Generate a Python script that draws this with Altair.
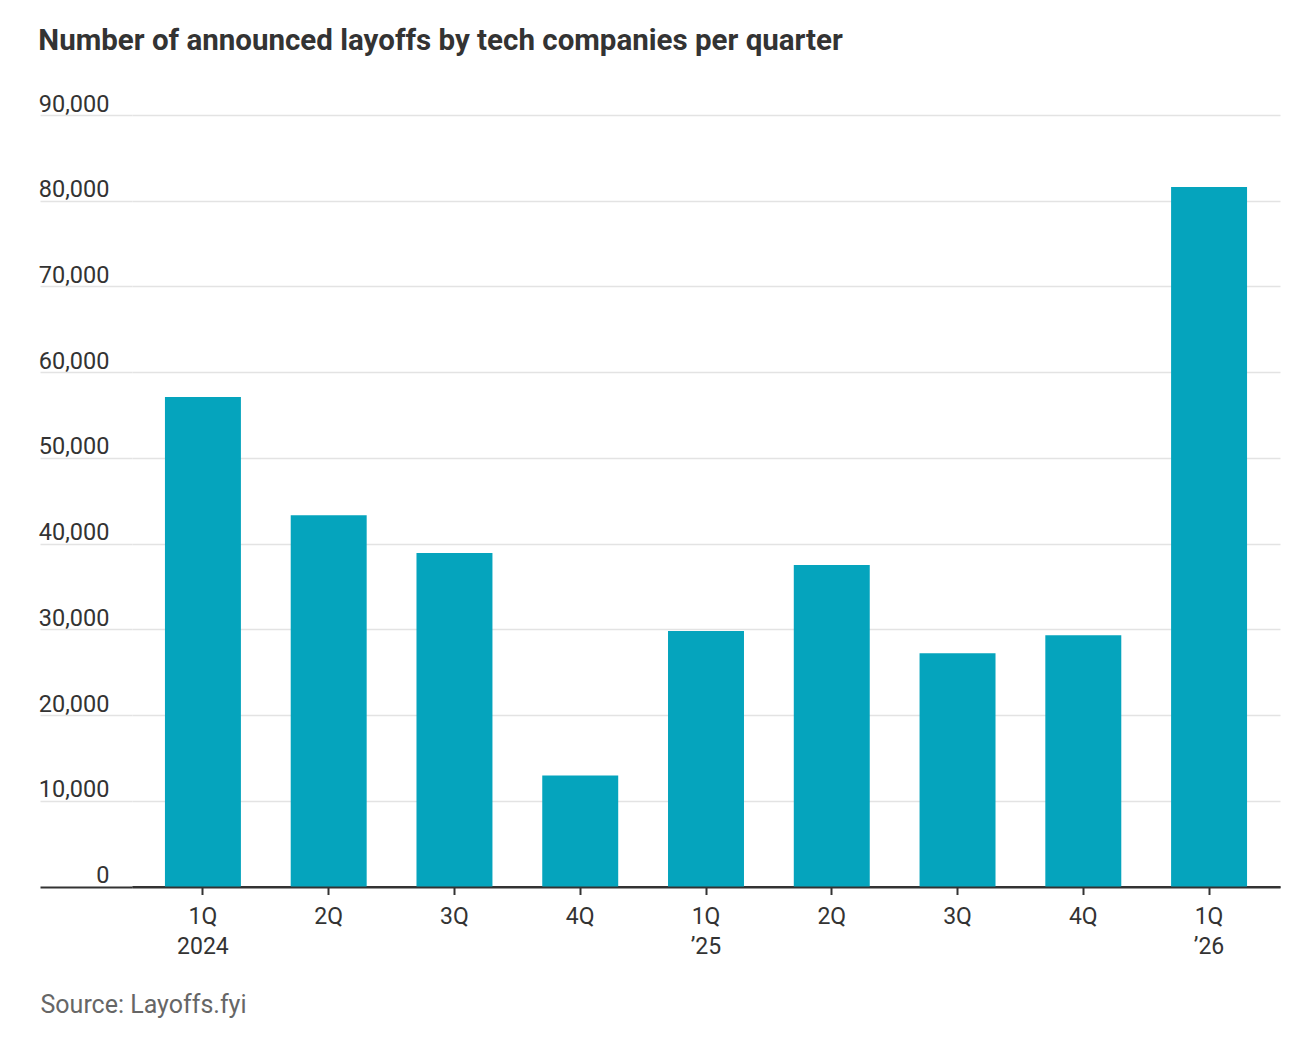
import altair as alt
import pandas as pd

quarters = ["1Q|2024", "2Q|2024", "3Q|2024", "4Q|2024", "1Q|’25", "2Q|’25", "3Q|’25", "4Q|’25", "1Q|’26"]
layoffs = [57100, 43300, 38900, 12950, 29800, 37500, 27200, 29300, 81600]
y_ticks = [0, 10000, 20000, 30000, 40000, 50000, 60000, 70000, 80000, 90000]

df = pd.DataFrame({"quarter": quarters, "layoffs": layoffs})

FONT = "Roboto"
TEXT = "#333333"

label_expr = ("split(datum.value, '|')[0] == '1Q' ? split(datum.value, '|') : split(datum.value, '|')[0]")

chart = alt.Chart(df).mark_bar(color="#05a4bd").encode(
    x=alt.X("quarter:N", sort=quarters,
            scale=alt.Scale(paddingInner=0.396, paddingOuter=0.262),
            axis=alt.Axis(title="Source: Layoffs.fyi", labelAngle=0, labelExpr=label_expr,
                          labelFont=FONT, labelFontSize=23, labelColor=TEXT, labelLineHeight=30,
                          labelPadding=11, labelBaseline="top",
                          tickColor=TEXT, tickSize=8, tickWidth=2,
                          domainColor=TEXT, domainWidth=2,
                          titleFont=FONT, titleFontSize=25, titleFontWeight="normal", titleColor="#666666",
                          titleAnchor="start", titleAlign="left", titleBaseline="alphabetic",
                          titleX=-92, titleY=126, grid=False)),
    y=alt.Y("layoffs:Q", scale=alt.Scale(domain=[0, 90000], nice=False),
            axis=alt.Axis(title=None, values=y_ticks, format=",d", domain=False,
                          labelFont=FONT, labelFontSize=23.5, labelColor=TEXT,
                          labelAlign="right", labelBaseline="alphabetic", labelOffset=-4,
                          labelPadding=-69, tickSize=92,
                          tickColor=alt.condition("datum.value === 0", alt.value(TEXT), alt.value("#e3e3e3")),
                          tickWidth=alt.condition("datum.value === 0", alt.value(2), alt.value(1.5)),
                          gridColor=alt.condition("datum.value === 0", alt.value(TEXT), alt.value("#e3e3e3")),
                          gridWidth=alt.condition("datum.value === 0", alt.value(2), alt.value(1.5)))),
).properties(
    width=1148, height=771.5,
    background="white",
    title=alt.TitleParams("Number of announced layoffs by tech companies per quarter",
                          font=FONT, fontSize=29.5, fontWeight="bold", color=TEXT,
                          anchor="start", frame="bounds", offset=36),
    autosize=alt.AutoSizeParams(type="none"),
    padding={"left": 124, "top": 107, "right": 10, "bottom": 160},
).configure_view(stroke="transparent", strokeWidth=0)

chart.save("out.html", embed_options={"renderer": "svg", "actions": False})
